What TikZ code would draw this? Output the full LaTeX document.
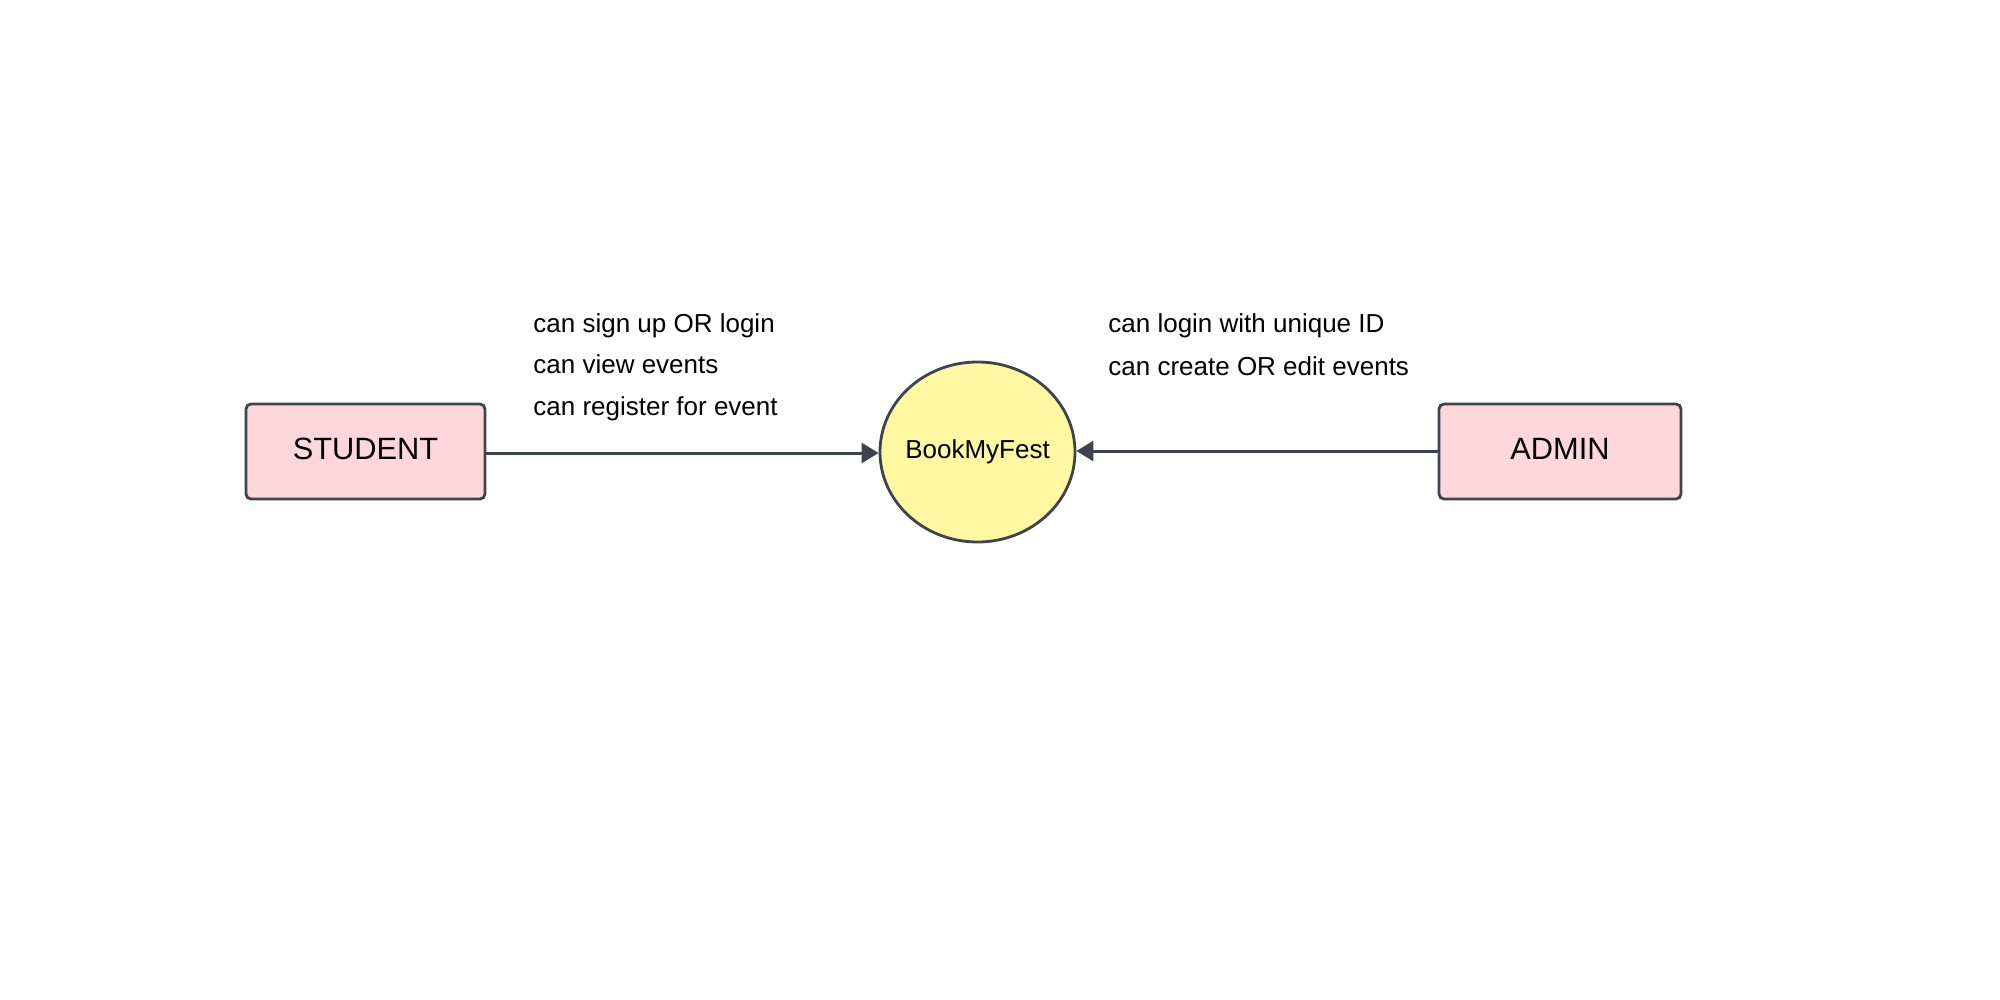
\documentclass[tikz,border=0pt]{standalone}
\usepackage{fontspec}
\setmainfont{Liberation Sans}
\usetikzlibrary{arrows.meta,shapes.geometric}
\definecolor{edge}{HTML}{3D434F}
\definecolor{pinkfill}{HTML}{FFD7DA}
\definecolor{yellowfill}{HTML}{FFF7A1}
\begin{document}
\begin{tikzpicture}[x=0.5pt,y=-0.5pt,
  entity/.style={draw=edge,fill=pinkfill,line width=1.4pt,rounded corners=2.5pt,minimum height=47.5pt,inner sep=0pt,text height=11pt,text depth=3pt,font=\fontsize{15.4}{18}\selectfont},
  process/.style={draw=edge,fill=yellowfill,line width=1.4pt,ellipse,minimum width=97.5pt,minimum height=90pt,inner sep=0pt,font=\fontsize{13}{16}\selectfont},
  flow/.style={draw=edge,line width=1.5pt,-{Triangle[length=8.5pt,width=10pt]}},
  lbl/.style={anchor=west,inner sep=0pt,text height=9.5pt,text depth=2.5pt,font=\fontsize{13}{16}\selectfont}]
\useasboundingbox (0,0) rectangle (2000,1000);
\node[entity,minimum width=119.5pt] (student) at (365.5,451.5) {STUDENT};
\node[entity,minimum width=121pt] (admin) at (1560,451.5) {ADMIN};
\node[process] (bmf) at (977.5,452) {\makebox[0pt]{\raisebox{1.5pt}{BookMyFest}}};
\draw[flow] (student.east |- 0,453) -- (bmf.west |- 0,453);
\draw[flow] (admin.west |- 0,451) -- (bmf.east |- 0,451);
\node[lbl] (s1) at (533,325.5) {can sign up OR login};
\node[lbl] (s2) at (533,366.5) {can view events};
\node[lbl] (s3) at (533,408.5) {can register for event};
\node[lbl] (a1) at (1108,325.5) {can login with unique ID};
\node[lbl] (a2) at (1108,368.5) {can create OR edit events};
\end{tikzpicture}
\end{document}
